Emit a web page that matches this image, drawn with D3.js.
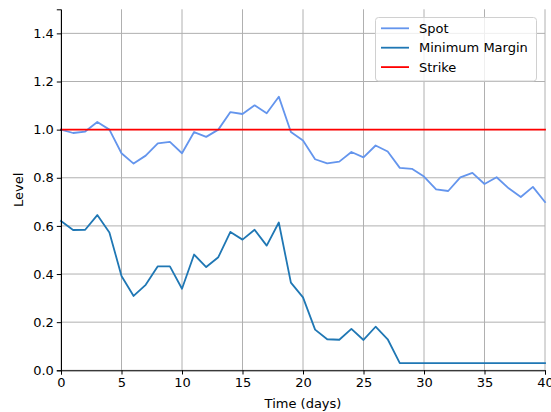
<!DOCTYPE html>
<html>
<head>
<meta charset="utf-8">
<script src="https://cdn.jsdelivr.net/npm/d3@7"></script>
<style>
  body { margin: 0; background: #fff; }
  text { font-family: "DejaVu Sans", sans-serif; }
</style>
</head>
<body>
<svg id="chart"></svg>
<script>
// data
var days = d3.range(0, 41);
var spot = [1.0, 0.986, 0.992, 1.032, 1.0, 0.902, 0.859, 0.892, 0.943, 0.949,
            0.902, 0.99, 0.97, 1.0, 1.073, 1.065, 1.101, 1.068, 1.137, 0.99,
            0.955, 0.877, 0.86, 0.867, 0.907, 0.885, 0.934, 0.909, 0.841, 0.837,
            0.805, 0.752, 0.745, 0.802, 0.82, 0.774, 0.802, 0.756, 0.72, 0.762, 0.699];
var minMargin = [0.62, 0.583, 0.584, 0.645, 0.573, 0.392, 0.309, 0.355, 0.432, 0.432,
                 0.339, 0.481, 0.429, 0.47, 0.575, 0.543, 0.584, 0.518, 0.614, 0.364,
                 0.303, 0.169, 0.129, 0.127, 0.172, 0.126, 0.181, 0.129, 0.03, 0.03,
                 0.03, 0.03, 0.03, 0.03, 0.03, 0.03, 0.03, 0.03, 0.03, 0.03, 0.03];
var strike = [1.0, 1.0];
var strikeDays = [0, 40];
var xTicks = [0, 5, 10, 15, 20, 25, 30, 35, 40];
var yTicks = [0, 0.2, 0.4, 0.6, 0.8, 1.0, 1.2, 1.4];
var seriesNames = ["Spot", "Minimum Margin", "Strike"];
var seriesColors = ["#6495ed", "#1f77b4", "#ff0000"];

//setup variables
var W = 551, H = 412,
    margin = {top: 9.3, right: 6, bottom: 41.7, left: 61},
    width = W - margin.left - margin.right,
    height = H - margin.top - margin.bottom;

var root = d3.select("#chart").attr("width", W).attr("height", H);
var svg = root.append("g")
    .attr("transform", "translate(" + margin.left + "," + margin.top + ")");

var x = d3.scaleLinear().domain([0, 40]).range([0, width]),
    y = d3.scaleLinear().domain([0, 1.5]).range([height, 0]);

// grid
svg.append("g").selectAll("line").data(xTicks).enter().append("line")
    .attr("x1", function(d) { return x(d); }).attr("x2", function(d) { return x(d); })
    .attr("y1", 0).attr("y2", height)
    .attr("stroke", "#b0b0b0").attr("stroke-width", 1);
svg.append("g").selectAll("line").data(yTicks).enter().append("line")
    .attr("y1", function(d) { return y(d); }).attr("y2", function(d) { return y(d); })
    .attr("x1", 0).attr("x2", width)
    .attr("stroke", "#b0b0b0").attr("stroke-width", 1);

// lines
var line = d3.line()
    .x(function(d) { return x(d[0]); })
    .y(function(d) { return y(d[1]); });

var series = [
  d3.zip(days, spot),
  d3.zip(days, minMargin),
  d3.zip(strikeDays, strike)
];

svg.selectAll("path.series").data(series).enter().append("path")
    .attr("class", "series")
    .attr("d", line)
    .attr("fill", "none")
    .attr("stroke", function(d, i) { return seriesColors[i]; })
    .attr("stroke-width", 1.8)
    .attr("stroke-linejoin", "round")
    .attr("stroke-linecap", "square");

// axes
var xAxis = svg.append("g")
    .attr("transform", "translate(0," + height + ")")
    .call(d3.axisBottom(x).tickValues(xTicks).tickFormat(d3.format("d")).tickSize(4.2).tickPadding(3));
var yAxis = svg.append("g")
    .call(d3.axisLeft(y).tickValues(yTicks).tickFormat(d3.format(".1f")).tickSize(4.2).tickPadding(3));

[xAxis, yAxis].forEach(function(a) {
  a.select(".domain").attr("stroke", "#000").attr("stroke-width", 1);
  a.selectAll(".tick line").attr("stroke", "#000").attr("stroke-width", 1);
  a.selectAll(".tick text").attr("fill", "#000").style("font-size", "13px")
      .style("font-family", "'DejaVu Sans', sans-serif");
});

// axis labels
root.append("text")
    .attr("x", margin.left + width / 2).attr("y", 408)
    .attr("text-anchor", "middle").style("font-size", "13px")
    .text("Time (days)");
root.append("text")
    .attr("transform", "translate(23," + (margin.top + height / 2) + ") rotate(-90)")
    .attr("text-anchor", "middle").style("font-size", "13px")
    .text("Level");

// legend
var legend = root.append("g");
legend.append("rect")
    .attr("x", 375.5).attr("y", 17.5).attr("width", 161).attr("height", 63.5)
    .attr("rx", 3).attr("fill", "#fff").attr("fill-opacity", 0.8)
    .attr("stroke", "#d0d0d0").attr("stroke-width", 1);
var items = legend.selectAll("g.item").data(seriesNames).enter().append("g")
    .attr("class", "item")
    .attr("transform", function(d, i) { return "translate(0," + (28.3 + i * 19.4) + ")"; });
items.append("line")
    .attr("x1", 381).attr("x2", 409).attr("y1", 0).attr("y2", 0)
    .attr("stroke", function(d, i) { return seriesColors[i]; })
    .attr("stroke-width", 1.8);
items.append("text")
    .attr("x", 419).attr("y", 4.6)
    .style("font-size", "13px")
    .text(function(d) { return d; });
</script>
</body>
</html>
